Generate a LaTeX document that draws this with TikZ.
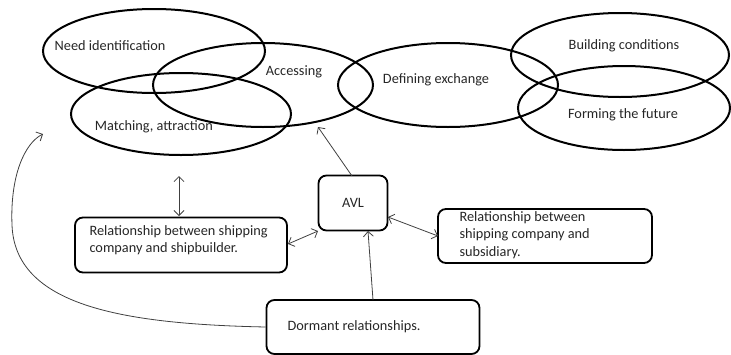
\documentclass[tikz,border=0pt]{standalone}
\usepackage{fontspec}
\setmainfont{Carlito}
\usetikzlibrary{arrows.meta}
\begin{document}
\begin{tikzpicture}[x=1pt,y=-1pt,
  ellline/.style={line width=2pt},
  lab/.style={font=\fontsize{14.3}{17.5}\selectfont, text=black!85},
  box/.style={draw, line width=1.8pt, rounded corners=8pt, minimum width=#1, minimum height=54pt, inner sep=0pt},
  conn/.style={line width=0.8pt, black!75},
  tip/.style={-{Straight Barb[length=5pt,width=10pt]}},
  dtip/.style={{Straight Barb[length=5pt,width=10pt]}-{Straight Barb[length=5pt,width=10pt]}}
]
\useasboundingbox (0,0) rectangle (731,354);
% ellipses
\draw[ellline] (154,51) ellipse [x radius=111, y radius=42];
\draw[ellline] (263,85) ellipse [x radius=110, y radius=42];
\draw[ellline] (181,114) ellipse [x radius=110, y radius=41];
\draw[ellline] (448,85) ellipse [x radius=110, y radius=42];
\draw[ellline] (620,55) ellipse [x radius=109, y radius=42];
\draw[ellline] (624,108) ellipse [x radius=106, y radius=42];
% ellipse labels
\node[lab] (need) at (110,46) {Need identification};
\node[lab] (acc) at (294,72) {Accessing};
\node[lab] (match) at (154,127) {Matching, attraction};
\node[lab] (def) at (436,80) {Defining exchange};
\node[lab] (build) at (624,46) {Building conditions};
\node[lab] (form) at (623,115) {Forming the future};
% boxes
\node[box=69pt, minimum height=55pt, lab] (avl) at (353,203) {AVL};
\node[box=212pt, minimum height=55pt] (ship) at (181,245) {};
\node[lab, anchor=west, align=left] (shiptxt) at (86,240) {Relationship between shipping\\company and shipbuilder.};
\node[box=214pt, minimum height=54pt] (sub) at (545,236) {};
\node[lab, anchor=west, align=left] (subtxt) at (456,235) {Relationship between\\shipping company and\\subsidiary.};
\node[box=213pt, minimum height=54pt] (dorm) at (373,327) {};
\node[lab, anchor=west] (dormtxt) at (284,327) {Dormant relationships.};
% connectors
\coordinate (accpt) at (318,127);
\coordinate (avltop) at (352,176);
\draw[conn,tip] (avltop) -- (accpt);
\coordinate (vtop) at (179,176);
\coordinate (vbot) at (179,216);
\draw[conn,dtip] (vbot) -- (vtop);
\coordinate (s1) at (288,244);
\coordinate (a1) at (318,231);
\draw[conn,dtip] (s1) -- (a1);
\coordinate (a2) at (388,217);
\coordinate (b2) at (438,236);
\draw[conn,dtip] (a2) -- (b2);
\coordinate (d1) at (373,300);
\coordinate (a3) at (368,231);
\draw[conn,tip] (d1) -- (a3);
\coordinate (cend) at (43,134);
\draw[conn,tip] (dorm.west) .. controls (120,324) and (15,305) .. (12,225) .. controls (10,175) and (25,143) .. (cend);
\end{tikzpicture}
\end{document}
